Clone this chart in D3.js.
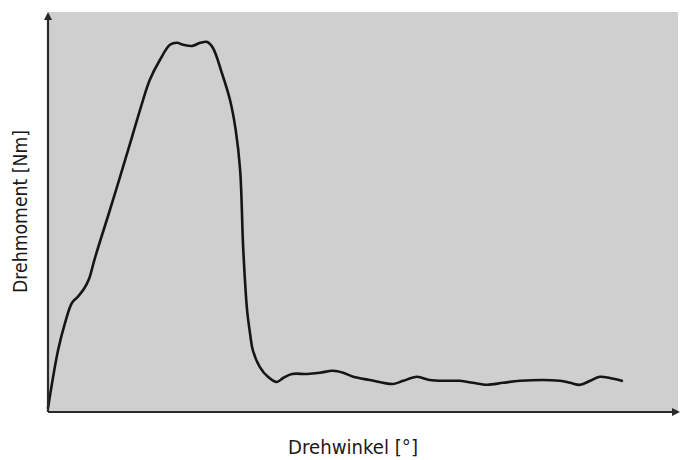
<!DOCTYPE html>
<html><head><meta charset="utf-8">
<script src="https://cdn.jsdelivr.net/npm/d3@7"></script>
<style>html,body{margin:0;padding:0;background:#fff;}svg{display:block;}</style>
</head><body><svg id="c" width="681" height="460"></svg>
<script>
const angle = [0,1.6,2.7,3.8,4.7,5.7,6.5,7.3,8.2,9.5,11.4,13.3,15.0,16.1,17.7,19.3,20.4,21.4,22.8,24.1,25.2,26.1,27.5,28.8,29.7,30.4,30.9,31.5,32.0,32.4,33.5,34.8,36.2,37.2,38.6,41.0,43.0,45.1,46.7,48.3,50.9,54.6,56.2,58.4,60.4,63.1,65.2,67.2,69.5,72.0,74.7,81.0,82.6,84.2,85.8,87.3,88.9,90.8];
const torque = [1,15.5,22.3,27.3,28.8,30.8,33.3,37.8,42.5,49,58.8,68.8,77.8,83,88,91.8,92.3,91.8,91.5,92.3,92.5,91,84.8,78,70.5,60.5,40.5,25.5,19.3,15.5,11.3,8.8,7.5,8.5,9.5,9.5,9.8,10.3,9.8,8.8,8,7,7.8,8.8,8,7.8,7.8,7.3,6.8,7.3,7.8,7.8,7.3,6.8,7.8,8.8,8.5,7.8];
const xLabel = "Drehwinkel [°]";
const yLabel = "Drehmoment [Nm]";

const svg = d3.select("#c");
const L = 48, R = 680, T = 12, B = 412;
const x = d3.scaleLinear().domain([0,100]).range([L,R]);
const y = d3.scaleLinear().domain([0,100]).range([B,T]);

svg.append("rect").attr("x",L).attr("y",T).attr("width",R-L-2).attr("height",B-T).attr("fill","#cfcfcf");

const data = angle.map((a,i)=>[a,torque[i]]);
svg.append("path").datum(data)
  .attr("d", d3.line().x(d=>x(d[0])).y(d=>y(d[1])).curve(d3.curveCatmullRom.alpha(0.5)))
  .attr("fill","none").attr("stroke","#151515").attr("stroke-width",2.6).attr("stroke-linejoin","round").attr("stroke-linecap","round");

// axes
const ax = svg.append("g");
ax.append("line").attr("x1",L).attr("y1",B).attr("x2",R-4).attr("y2",B).attr("stroke","#2a2a2a").attr("stroke-width",2.2);
ax.append("line").attr("x1",L).attr("y1",B).attr("x2",L).attr("y2",T+4).attr("stroke","#2a2a2a").attr("stroke-width",2.2);
ax.append("path").attr("d",`M${R},${B} L${R-8},${B-4} L${R-8},${B+4} Z`).attr("fill","#2a2a2a");
ax.append("path").attr("d",`M${L},${T} L${L-4},${T+8} L${L+4},${T+8} Z`).attr("fill","#2a2a2a");

svg.append("text").attr("x",288).attr("y",454)
  .attr("font-family","'DejaVu Sans', sans-serif").attr("font-size",19).attr("fill","#1a1a1a")
  .attr("textLength",130).attr("lengthAdjust","spacingAndGlyphs").text(xLabel);
svg.append("text").attr("transform","translate(27,293) rotate(-90)")
  .attr("font-family","'DejaVu Sans', sans-serif").attr("font-size",19).attr("fill","#1a1a1a")
  .attr("textLength",163).attr("lengthAdjust","spacingAndGlyphs").text(yLabel);
</script></body></html>
